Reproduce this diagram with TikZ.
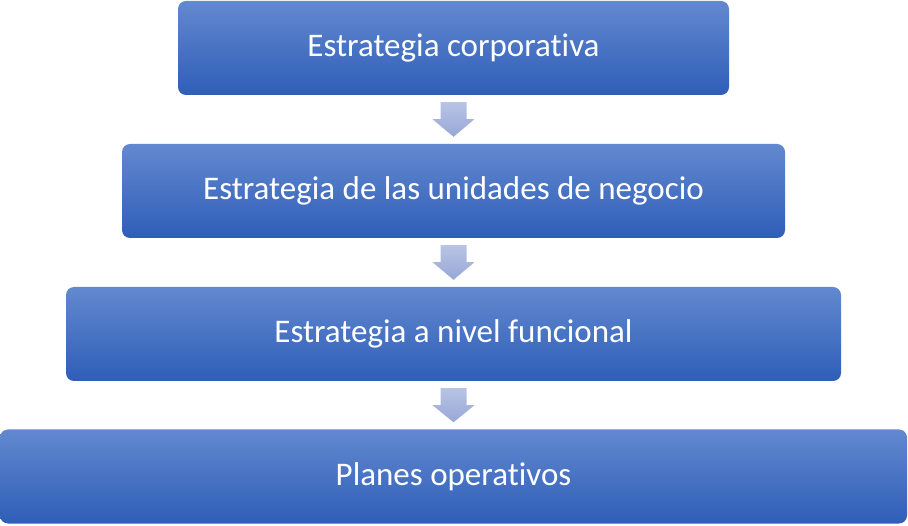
\documentclass[tikz,border=0pt]{standalone}
\usepackage{fontspec}
\setmainfont{Carlito}[Ligatures=NoCommon]
\usepackage{tikz}
\usetikzlibrary{calc}
\definecolor{cajaarriba}{HTML}{6289CF}
\definecolor{cajaabajo}{HTML}{2F5EB8}
\definecolor{flechaarriba}{HTML}{B9C4E4}
\definecolor{flechaabajo}{HTML}{97A7D8}

\begin{document}
\begin{tikzpicture}[x=1pt,y=1pt,yscale=1,xscale=1,
  nivel/.style={rounded corners=8pt,top color=cajaarriba,bottom color=cajaabajo,text=white,
    inner sep=0pt,minimum height=94pt,font=\fontsize{33}{40}\selectfont},
  flecha/.style={top color=flechaarriba,bottom color=flechaabajo}]
\useasboundingbox (0,0) rectangle (908,525);
%Cajas
\node [nivel,minimum width=551pt] (corp) at (453.5,477) {Estrategia corporativa};
\node [nivel,minimum width=663pt] (unid) at (453.5,334) {Estrategia de las unidades de negocio};
\node [nivel,minimum width=775pt] (func) at (453.5,191) {Estrategia a nivel funcional};
\node [nivel,minimum width=907pt] (plan) at (453.5,48.5) {Planes operativos};
%Flechas
\foreach \a/\b in {corp/unid,unid/func,func/plan}
  \path [flecha] ($(\a.south)+(-13,-7)$) -- ($(\a.south)+(13,-7)$) -- ($(\a.south)+(13,-24)$)
    -- ($(\a.south)+(21,-24)$) -- ($(\b.north)+(0,7)$) -- ($(\a.south)+(-21,-24)$)
    -- ($(\a.south)+(-13,-24)$) -- cycle;
\end{tikzpicture}
\end{document}
